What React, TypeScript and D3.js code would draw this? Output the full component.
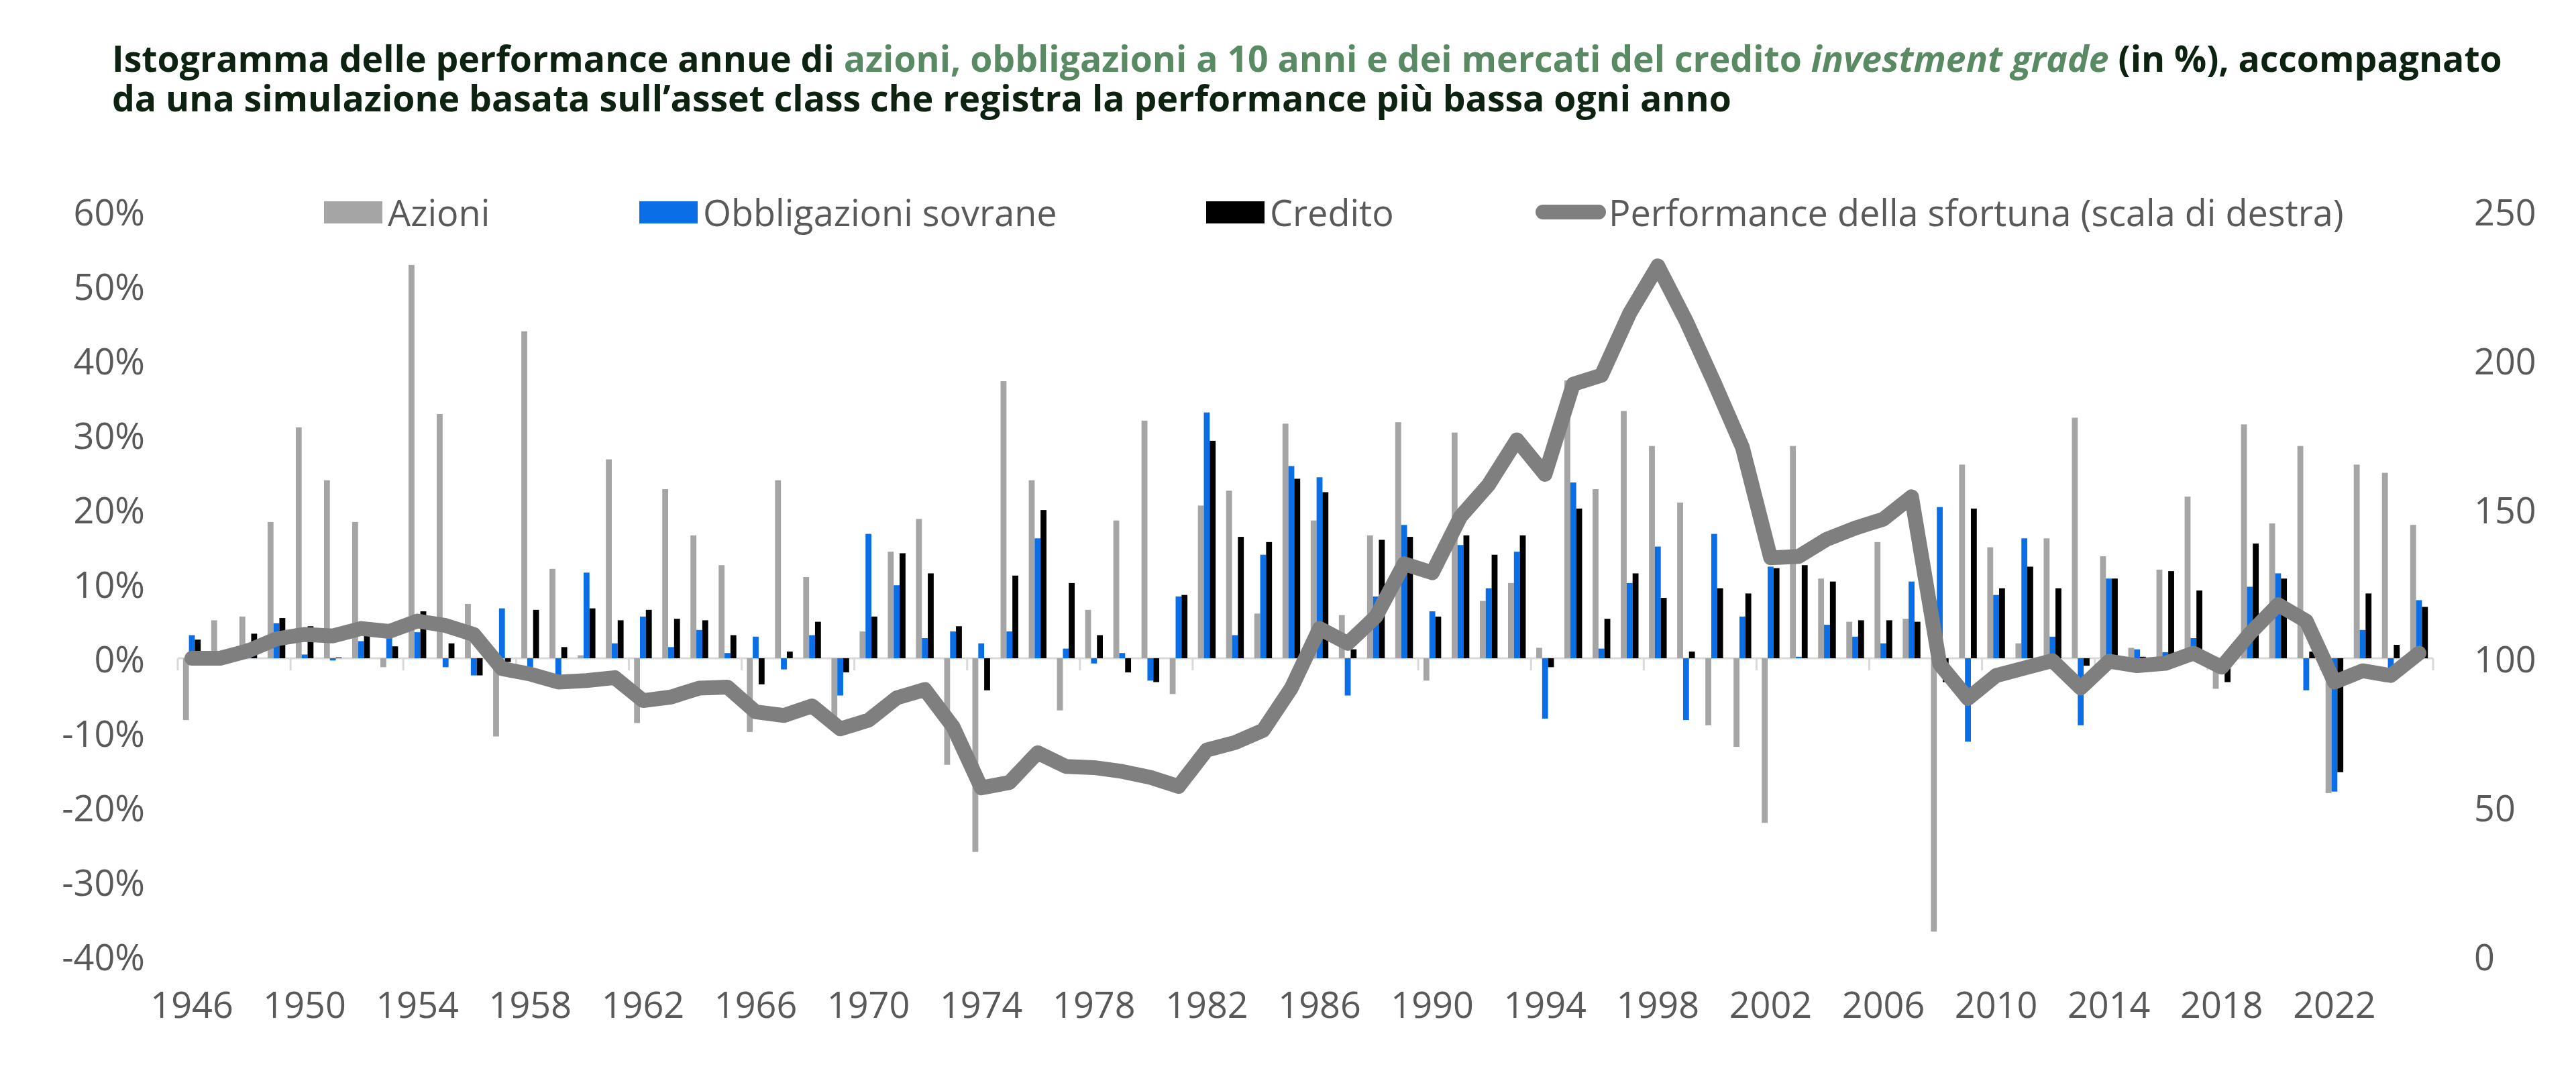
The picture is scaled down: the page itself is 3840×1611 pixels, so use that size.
import React from 'react';
import * as d3 from 'd3';

// Years on the category axis
const years = [
  1946, 1947, 1948, 1949, 1950, 1951, 1952, 1953, 1954, 1955,
  1956, 1957, 1958, 1959, 1960, 1961, 1962, 1963, 1964, 1965,
  1966, 1967, 1968, 1969, 1970, 1971, 1972, 1973, 1974, 1975,
  1976, 1977, 1978, 1979, 1980, 1981, 1982, 1983, 1984, 1985,
  1986, 1987, 1988, 1989, 1990, 1991, 1992, 1993, 1994, 1995,
  1996, 1997, 1998, 1999, 2000, 2001, 2002, 2003, 2004, 2005,
  2006, 2007, 2008, 2009, 2010, 2011, 2012, 2013, 2014, 2015,
  2016, 2017, 2018, 2019, 2020, 2021, 2022, 2023, 2024, 2025,
];

// Annual performance, % (left axis)
const azioni = [
  -8.3, 5.1, 5.6, 18.3, 31.0, 23.9, 18.3, -1.2, 52.8, 32.8,
  7.3, -10.5, 43.9, 12.0, 0.4, 26.7, -8.7, 22.7, 16.5, 12.5,
  -9.9, 23.9, 10.9, -8.0, 3.6, 14.3, 18.7, -14.3, -26.0, 37.2,
  23.9, -7.0, 6.5, 18.5, 31.9, -4.8, 20.5, 22.5, 6.0, 31.5,
  18.5, 5.8, 16.5, 31.7, -3.0, 30.3, 7.7, 10.1, 1.4, 37.3,
  22.7, 33.2, 28.5, 20.9, -9.0, -11.9, -22.1, 28.5, 10.7, 4.9,
  15.6, 5.3, -36.7, 26.0, 14.9, 2.0, 16.1, 32.3, 13.7, 1.4,
  11.9, 21.7, -4.1, 31.4, 18.1, 28.5, -18.1, 26.0, 24.9, 17.9,
];

const obbligazioni = [
  3.1, 0.4, 2.0, 4.7, 0.5, -0.3, 2.3, 2.7, 3.5, -1.2,
  -2.3, 6.7, -1.2, -2.3, 11.5, 2.0, 5.6, 1.5, 3.8, 0.7,
  2.9, -1.5, 3.1, -5.0, 16.7, 9.8, 2.7, 3.6, 2.0, 3.6,
  16.1, 1.3, -0.7, 0.7, -3.0, 8.3, 33.0, 3.1, 13.9, 25.8,
  24.3, -5.0, 8.3, 17.9, 6.3, 15.2, 9.4, 14.3, -8.1, 23.6,
  1.3, 10.1, 15.0, -8.3, 16.7, 5.6, 12.3, 0.2, 4.5, 2.9,
  2.0, 10.3, 20.3, -11.2, 8.5, 16.1, 2.9, -9.0, 10.7, 1.2,
  0.8, 2.7, 0.0, 9.6, 11.4, -4.3, -17.9, 3.8, -1.3, 7.8,
];

const credito = [
  2.5, 0.2, 3.3, 5.4, 4.3, 0.1, 3.0, 1.6, 6.3, 2.0,
  -2.3, -0.5, 6.5, 1.5, 6.7, 5.1, 6.5, 5.3, 5.1, 3.1,
  -3.5, 0.9, 4.9, -1.9, 5.6, 14.1, 11.4, 4.3, -4.3, 11.1,
  19.9, 10.1, 3.1, -1.9, -3.2, 8.5, 29.2, 16.3, 15.6, 24.1,
  22.3, 1.2, 15.9, 16.3, 5.6, 16.5, 13.9, 16.5, -1.2, 20.1,
  5.3, 11.4, 8.1, 0.9, 9.4, 8.7, 12.1, 12.5, 10.3, 5.1,
  5.1, 4.9, -3.2, 20.1, 9.4, 12.3, 9.4, -1.0, 10.7, 0.2,
  11.7, 9.1, -3.2, 15.4, 10.7, 0.9, -15.3, 8.7, 1.8, 6.9,
];

// "Performance della sfortuna" index (right axis)
const sfortuna = [
  100, 100, 102.5, 106.5, 108, 107.5, 110, 109, 112.5, 111,
  108, 96.5, 94.7, 92, 92.5, 93.5, 85.8, 87, 90, 90.3,
  82, 80.8, 84, 76.3, 79.2, 86.7, 89.5, 77, 56.5, 58.3,
  68.3, 63.7, 63.3, 62, 60, 57, 69.2, 71.7, 75.8, 90,
  110, 105, 114, 131.7, 128.7, 147.5, 158.3, 173.3, 161.7, 192,
  195, 215.8, 231.7, 213.3, 192.5, 170.8, 133.7, 134.2, 140, 143.7,
  146.7, 154.2, 98, 86.5, 94.2, 96.7, 99.2, 90, 99, 97.5,
  98.3, 101.7, 97, 108.3, 118, 112.5, 92, 95.8, 94.2, 101.7,
];

const yearTicks = [
  1946, 1950, 1954, 1958, 1962, 1966, 1970, 1974, 1978, 1982,
  1986, 1990, 1994, 1998, 2002, 2006, 2010, 2014, 2018, 2022,
];
const leftTicks = [60, 50, 40, 30, 20, 10, 0, -10, -20, -30, -40];
const rightTicks = [250, 200, 150, 100, 50, 0];

const seriesNames = ['Azioni', 'Obbligazioni sovrane', 'Credito'];
const lineName = 'Performance della sfortuna (scala di destra)';

const COLORS = ['#A5A5A5', '#0A6FE6', '#000000'];
const LINE_COLOR = '#7F7F7F';
const TEXT = '#595959';
const FONT = "'Open Sans', 'Noto Sans', sans-serif";

const W = 3840;
const H = 1611;

export default function App() {
  const plotLeft = 265;
  const plotRight = 3627;
  const yTop = 315;
  const yBottom = 1425;

  const x = d3.scaleBand<number>()
    .domain(years)
    .range([plotLeft, plotRight])
    .paddingInner(0.372)
    .paddingOuter(0.186);

  const xs = d3.scaleBand<number>()
    .domain([0, 1, 2])
    .range([0, x.bandwidth()]);

  const yL = d3.scaleLinear().domain([-40, 60]).range([yBottom, yTop]);
  const yR = d3.scaleLinear().domain([0, 250]).range([yBottom, yTop]);

  const step = x.step();
  const series = [azioni, obbligazioni, credito];

  const line = d3.line<number>()
    .x((_, i) => (x(years[i]) as number) + x.bandwidth() / 2)
    .y(d => yR(d));

  // legend swatch positions
  const legendY = 316;
  const barLegend = [483, 953, 1798];

  return (
    <svg
      width={W}
      height={H}
      style={{ position: 'absolute', left: 0, top: 0, background: '#fff' }}
      fontFamily={FONT}
    >
      {/* Title */}
      <text x={167} y={107} fontSize={53.5} fontWeight={700} fill="#0d2210">
        Istogramma delle performance annue di{' '}
        <tspan fill="#5a8a64">azioni, obbligazioni a 10 anni e dei mercati del credito </tspan>
        <tspan fill="#5a8a64" fontStyle="italic">investment grade</tspan>
        {' '}(in %), accompagnato
      </text>
      <text x={167} y={166} fontSize={53.5} fontWeight={700} fill="#0d2210">
        da una simulazione basata sull’asset class che registra la performance più bassa ogni anno
      </text>

      {/* Legend */}
      {seriesNames.map((name, i) => (
        <g key={name}>
          <rect x={barLegend[i]} y={legendY - 16} width={87} height={33} fill={COLORS[i]} />
          <text
            x={barLegend[i] + 95}
            y={legendY}
            dominantBaseline="central"
            fontSize={54}
            fill={TEXT}
          >
            {name}
          </text>
        </g>
      ))}
      <line
        x1={2300}
        x2={2383}
        y1={legendY}
        y2={legendY}
        stroke={LINE_COLOR}
        strokeWidth={22}
        strokeLinecap="round"
      />
      <text x={2398} y={legendY} dominantBaseline="central" fontSize={54} fill={TEXT}>
        {lineName}
      </text>

      {/* Left axis labels */}
      {leftTicks.map(t => (
        <text
          key={'l' + t}
          x={216}
          y={yL(t)}
          textAnchor="end"
          dominantBaseline="central"
          fontSize={54}
          fill={TEXT}
        >
          {t}%
        </text>
      ))}

      {/* Right axis labels */}
      {rightTicks.map(t => (
        <text
          key={'r' + t}
          x={3688}
          y={yR(t)}
          dominantBaseline="central"
          fontSize={54}
          fill={TEXT}
        >
          {t}
        </text>
      ))}

      {/* Zero axis line with tick marks every 4 years */}
      <line x1={plotLeft} x2={plotRight} y1={yL(0)} y2={yL(0)} stroke="#D9D9D9" strokeWidth={3} />
      {d3.range(0, years.length + 1, 4).map(i => (
        <line
          key={'t' + i}
          x1={plotLeft + i * step}
          x2={plotLeft + i * step}
          y1={yL(0)}
          y2={yL(0) + 18}
          stroke="#D9D9D9"
          strokeWidth={3}
        />
      ))}

      {/* Year labels */}
      {yearTicks.map(yr => (
        <text
          key={'y' + yr}
          x={(x(yr) as number) + x.bandwidth() / 2}
          y={1517}
          textAnchor="middle"
          fontSize={54}
          fill={TEXT}
        >
          {yr}
        </text>
      ))}

      {/* Bars */}
      {series.map((vals, s) => (
        <g key={'s' + s} fill={COLORS[s]}>
          {vals.map((v, i) => (
            <rect
              key={i}
              x={(x(years[i]) as number) + (xs(s) as number)}
              y={yL(Math.max(0, v))}
              width={xs.bandwidth()}
              height={Math.abs(yL(v) - yL(0))}
            />
          ))}
        </g>
      ))}

      {/* Line, right scale */}
      <path
        d={line(sfortuna) || ''}
        fill="none"
        stroke={LINE_COLOR}
        strokeWidth={22}
        strokeLinejoin="round"
        strokeLinecap="round"
      />
    </svg>
  );
}
